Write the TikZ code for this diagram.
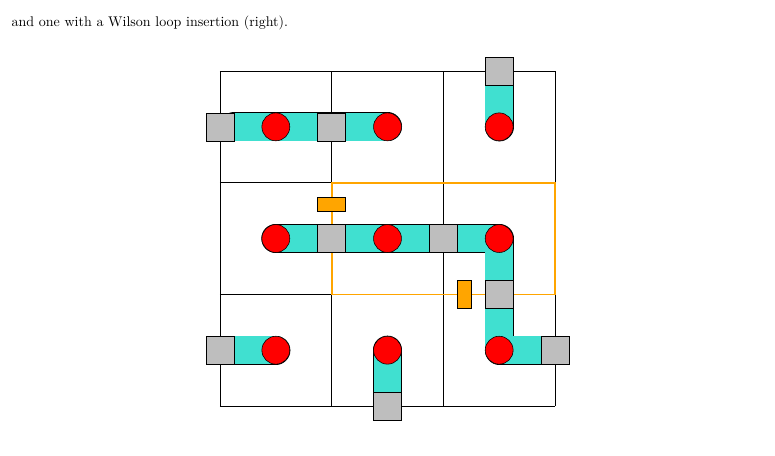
\documentclass[tikz,border=0pt]{standalone}
\usetikzlibrary{backgrounds}
\definecolor{linkgray}{RGB}{190,190,190}
\definecolor{bandcyan}{RGB}{64,224,208}
\definecolor{looporange}{RGB}{255,165,0}
\tikzset{
	site/.style={circle, draw, fill=red, minimum size=0.7cm, inner sep=0pt},
	link/.style={rectangle, draw, fill=linkgray, minimum size=0.7cm, inner sep=0pt},
	band/.style={line width=0.7cm, bandcyan, line cap=round, line join=round,
		preaction={draw=black, line width=0.7cm+0.8pt, line cap=round, line join=round}},
	hmark/.style={rectangle, draw, fill=looporange, minimum width=0.7cm, minimum height=0.35cm, inner sep=0pt},
	vmark/.style={rectangle, draw, fill=looporange, minimum width=0.35cm, minimum height=0.7cm, inner sep=0pt}
}
\begin{document}
\begin{tikzpicture}[x=2.8cm, y=2.8cm]
		\useasboundingbox (-1.970,-0.439) rectangle (4.970,3.636);
		\node [anchor=base west] (caption) at (-1.910,3.400) {and one with a Wilson loop insertion (right).};
		% sites
		\foreach \i in {0,1,2} {
			\foreach \j in {0,1,2} {
				\node [site] (s\i\j) at (\i+0.5,\j+0.5) {};
			}
		}
		% links
		\node [link] (l1) at (0,2.5) {};
		\node [link] (l2) at (1,2.5) {};
		\node [link] (l3) at (2.5,3) {};
		\node [link] (l4) at (1,1.5) {};
		\node [link] (l5) at (2,1.5) {};
		\node [link] (l6) at (2.5,1) {};
		\node [link] (l7) at (0,0.5) {};
		\node [link] (l8) at (1.5,0) {};
		\node [link] (l9) at (3,0.5) {};
		\node [hmark] (w1) at (1,1.81) {};
		\node [vmark] (w2) at (2.19,1) {};
		\begin{pgfonlayer}{background}
			\foreach \k in {0,...,3} {
				\draw [line width=0.5pt] (\k,0) -- (\k,3);
				\draw [line width=0.5pt] (0,\k) -- (3,\k);
			}
			\draw [looporange, line width=1.2pt] (1,1) rectangle (3,2);
			\draw [band] (l1.east) -- (s12.center);
			\draw [band] (l3.south) -- (s22.center);
			\draw [band] (s01.center) -- (s21.center) -- (s20.center) -- (l9.west);
			\draw [band] (l7.east) -- (s00.center);
			\draw [band] (s10.center) -- (l8.north);
		\end{pgfonlayer}
	\end{tikzpicture}
\end{document}
